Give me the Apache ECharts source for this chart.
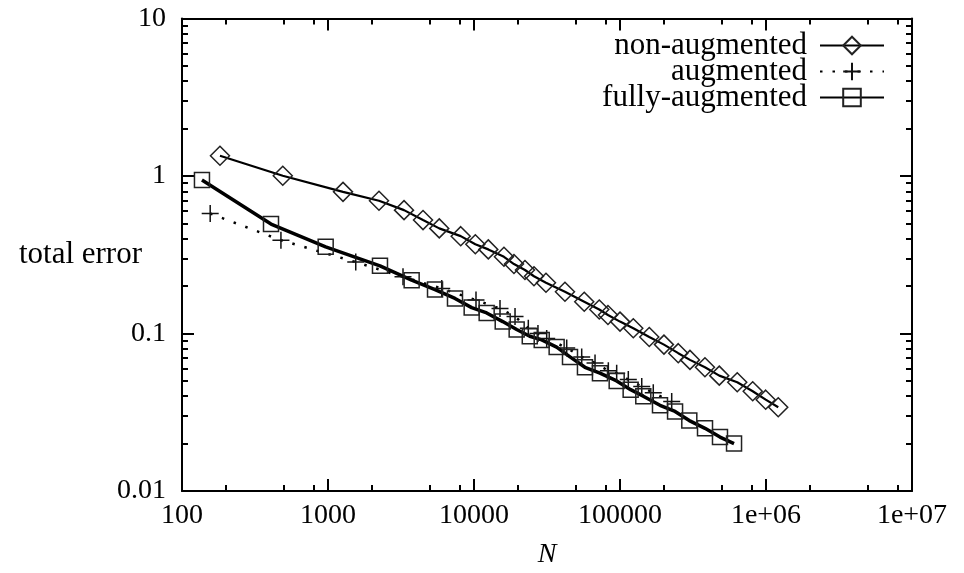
<!DOCTYPE html>
<html>
<head>
<meta charset="utf-8">
<script src="https://cdn.jsdelivr.net/npm/echarts@6/dist/echarts.min.js"></script>
<style>
  html, body { margin: 0; padding: 0; background: #fff; }
  #chart { width: 964px; height: 573px; }
</style>
</head>
<body>
<div id="chart"></div>
<script>
var nonAugN = [182, 490, 1267, 2235, 3316, 4475, 5781, 8110, 10210, 12530, 16040, 18780, 22340, 25750, 31120, 41980, 56900, 72100, 82700, 100000, 123300, 158700, 200000, 250600, 301400, 381800, 478600, 635300, 810900, 995000, 1213000]
var nonAugErr = [1.344, 1.003, 0.793, 0.696, 0.607, 0.525, 0.465, 0.415, 0.369, 0.342, 0.307, 0.276, 0.253, 0.231, 0.210, 0.184, 0.159, 0.142, 0.131, 0.119, 0.108, 0.095, 0.085, 0.075, 0.068, 0.061, 0.054, 0.049, 0.043, 0.038, 0.034]

var augN = [156, 476, 1549, 3264, 6010, 10320, 15070, 19100, 23550, 27420, 31470, 43150, 54660, 67450, 83200, 94900, 114000, 140900, 169000, 226000]
var augErr = [0.578, 0.391, 0.284, 0.229, 0.193, 0.163, 0.144, 0.128, 0.108, 0.100, 0.093, 0.081, 0.071, 0.065, 0.058, 0.056, 0.051, 0.046, 0.042, 0.037]

var fullN = [137, 407, 964, 2270, 3741, 5408, 7410, 9640, 12210, 15730, 19600, 24100, 29100, 36820, 45450, 57540, 72900, 94900, 118300, 144400, 187900, 238300, 298300, 382200, 484000, 604000]
var fullErr = [0.942, 0.495, 0.355, 0.269, 0.218, 0.190, 0.167, 0.146, 0.135, 0.119, 0.106, 0.096, 0.091, 0.082, 0.071, 0.061, 0.056, 0.050, 0.044, 0.040, 0.035, 0.032, 0.028, 0.025, 0.022, 0.020]

var seriesNames = ['non-augmented', 'augmented', 'fully-augmented']

var xTicks = [100, 1000, 10000, 100000, 1000000, 10000000]
var xTickLabels = ['100', '1000', '10000', '100000', '1e+06', '1e+07']
var xMinorTicks = [200, 500, 800, 2000, 5000, 8000, 20000, 50000, 80000,
    200000, 500000, 800000, 2000000, 5000000, 8000000]

var yTicks = [0.01, 0.1, 1, 10]
var yTickLabels = ['0.01', '0.1', '1', '10']
var yMinorTicks = [0.02, 0.03, 0.04, 0.05, 0.06, 0.07, 0.08, 0.09,
    0.2, 0.3, 0.4, 0.5, 0.6, 0.7, 0.8, 0.9,
    2, 3, 4, 5, 6, 7, 8, 9]

function zip(a, b) {
    return a.map(function (v, i) { return [v, b[i]] })
}

var FONT = '"Liberation Serif", "DejaVu Serif", serif'

function xAxisDef(pos, major, main) {
    return {
        type: 'log', logBase: 10, min: 100, max: 10000000, position: pos,
        axisLine: { show: major, onZero: false, lineStyle: { color: '#000', width: 2 } },
        axisTick: { show: true, inside: true, length: major ? 12 : 6,
            customValues: major ? xTicks : xMinorTicks,
            lineStyle: { color: '#000', width: 2 } },
        axisLabel: { show: main, customValues: xTicks, margin: 11,
            color: '#000', fontFamily: FONT, fontSize: 28,
            formatter: function (v) { return xTickLabels[Math.round(Math.log10(v)) - 2] } },
        splitLine: { show: false },
        minorTick: { show: false },
        name: main ? 'N' : '', nameLocation: 'middle', nameGap: 50, nameMoveOverlap: false,
        nameTextStyle: { color: '#000', fontFamily: FONT, fontSize: 28, fontStyle: 'italic' }
    }
}

function yAxisDef(pos, major, main) {
    return {
        type: 'log', logBase: 10, min: 0.01, max: 10, position: pos,
        axisLine: { show: major, onZero: false, lineStyle: { color: '#000', width: 2 } },
        axisTick: { show: true, inside: true, length: major ? 12 : 6,
            customValues: major ? yTicks : yMinorTicks,
            lineStyle: { color: '#000', width: 2 } },
        axisLabel: { show: main, customValues: yTicks, margin: 16,
            color: '#000', fontFamily: FONT, fontSize: 28,
            formatter: function (v) { return yTickLabels[Math.round(Math.log10(v)) + 2] } },
        splitLine: { show: false },
        minorTick: { show: false },
        name: main ? 'total error' : '', nameLocation: 'middle', nameGap: 40, nameRotate: 0,
        nameMoveOverlap: false,
        nameTextStyle: { color: '#000', fontFamily: FONT, fontSize: 31 }
    }
}

var chart = echarts.init(document.getElementById('chart'))

var option = {
    animation: false,
    backgroundColor: '#fff',
    grid: { left: 182, right: 52, top: 18.5, bottom: 82, containLabel: false, outerBoundsMode: 'none' },
    legend: {
        orient: 'vertical', align: 'right', right: 79, top: 30, padding: 0,
        itemWidth: 64, itemHeight: 22, itemGap: -5,
        data: seriesNames,
        textStyle: { color: '#000', fontFamily: FONT, fontSize: 31, padding: [0, 8, 0, 0] }
    },
    xAxis: [
        xAxisDef('bottom', true, true),
        xAxisDef('bottom', false, false),
        xAxisDef('top', true, false),
        xAxisDef('top', false, false)
    ],
    yAxis: [
        yAxisDef('left', true, true),
        yAxisDef('left', false, false),
        yAxisDef('right', true, false),
        yAxisDef('right', false, false)
    ],
    series: [
        {
            name: seriesNames[0], type: 'line', data: zip(nonAugN, nonAugErr),
            symbol: 'diamond', symbolSize: 19,
            lineStyle: { color: '#000', width: 2.2 },
            itemStyle: { color: 'none', borderColor: '#222', borderWidth: 1.5 }
        },
        {
            name: seriesNames[1], type: 'line', data: zip(augN, augErr),
            symbol: 'path://M10,0L10,20M0,10L20,10', symbolSize: 17,
            lineStyle: { color: '#000', width: 2.5, type: [2.5, 10] },
            itemStyle: { color: 'none', borderColor: '#111', borderWidth: 1.5 }
        },
        {
            name: seriesNames[2], type: 'line', data: zip(fullN, fullErr),
            symbol: 'rect', symbolSize: 15,
            lineStyle: { color: '#000', width: 3.5 },
            itemStyle: { color: 'none', borderColor: '#222', borderWidth: 1.5 }
        }
    ]
}

chart.setOption(option)
</script>
</body>
</html>
